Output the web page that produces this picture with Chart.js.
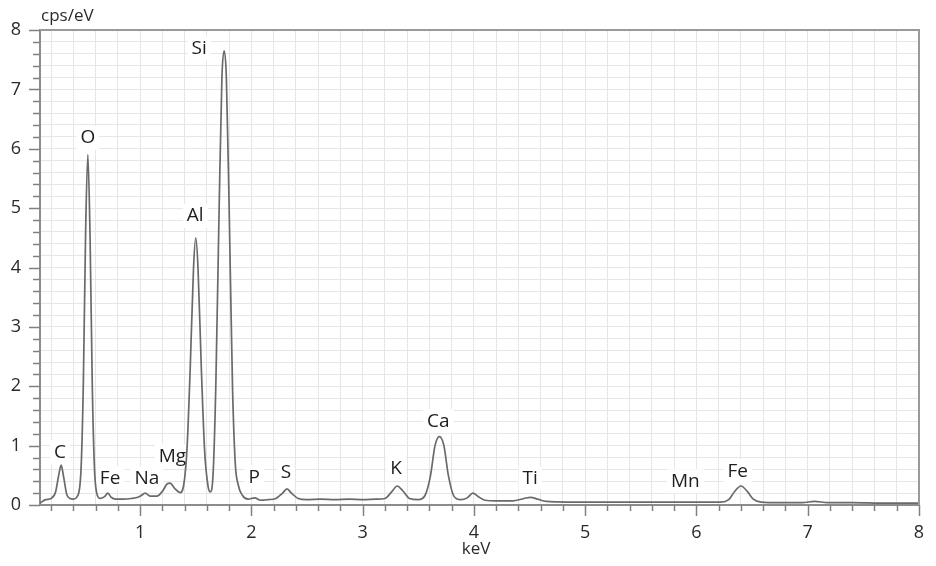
<!DOCTYPE html>
<html>
<head>
<meta charset="utf-8">
<title>EDS spectrum</title>
<script src="https://cdn.jsdelivr.net/npm/chart.js@4/dist/chart.umd.min.js"></script>
<style>
  html, body { margin: 0; padding: 0; background: #fff; }
  #wrap { width: 936px; height: 566px; }
</style>
</head>
<body>
<div id="wrap"><canvas id="spectrum" width="936" height="566"></canvas></div>
<script>
// spectrum (keV, cps/eV)
const energy = [
  0.10, 0.15, 0.20, 0.24, 0.27, 0.29, 0.31, 0.34, 0.37, 0.40,
  0.44, 0.47, 0.49, 0.51, 0.53, 0.55, 0.57, 0.59, 0.61, 0.64,
  0.68, 0.71, 0.74, 0.78, 0.85, 0.92, 0.98, 1.01, 1.045, 1.09,
  1.15, 1.20, 1.24, 1.27, 1.31, 1.36, 1.39, 1.42, 1.45, 1.48,
  1.50, 1.52, 1.55, 1.58, 1.61, 1.63, 1.655, 1.68, 1.71, 1.735,
  1.755, 1.775, 1.80, 1.83, 1.855, 1.88, 1.92, 1.97, 2.03, 2.08,
  2.15, 2.22, 2.28, 2.32, 2.36, 2.42, 2.50, 2.62, 2.75, 2.88,
  3.00, 3.12, 3.20, 3.26, 3.31, 3.36, 3.42, 3.50, 3.56, 3.61,
  3.65, 3.69, 3.73, 3.77, 3.82, 3.88, 3.94, 3.99, 4.04, 4.10,
  4.20, 4.35, 4.45, 4.51, 4.57, 4.65, 4.85, 5.10, 5.40, 5.70,
  5.90, 6.10, 6.22, 6.29, 6.34, 6.40, 6.46, 6.51, 6.58, 6.75,
  6.95, 7.06, 7.18, 7.40, 7.70, 8.00
];
const counts = [
  0.03, 0.09, 0.11, 0.22, 0.52, 0.67, 0.50, 0.18, 0.11, 0.10,
  0.16, 0.65, 2.10, 4.60, 5.90, 4.50, 2.00, 0.60, 0.20, 0.11,
  0.14, 0.20, 0.13, 0.10, 0.10, 0.11, 0.13, 0.16, 0.20, 0.15,
  0.15, 0.23, 0.35, 0.37, 0.28, 0.21, 0.32, 0.90, 2.30, 4.00,
  4.50, 4.00, 2.30, 0.90, 0.32, 0.22, 0.50, 2.00, 5.00, 7.20,
  7.65, 7.20, 5.00, 2.00, 0.70, 0.35, 0.16, 0.10, 0.12, 0.08,
  0.09, 0.11, 0.20, 0.27, 0.20, 0.11, 0.09, 0.10, 0.09, 0.10,
  0.09, 0.10, 0.11, 0.22, 0.32, 0.24, 0.11, 0.09, 0.16, 0.50,
  1.00, 1.15, 1.00, 0.50, 0.15, 0.09, 0.12, 0.20, 0.14, 0.08,
  0.07, 0.07, 0.11, 0.13, 0.10, 0.06, 0.05, 0.05, 0.05, 0.05,
  0.05, 0.05, 0.05, 0.09, 0.22, 0.32, 0.22, 0.10, 0.05, 0.04,
  0.04, 0.06, 0.04, 0.04, 0.03, 0.03
];

// element labels and where they sit (keV, cps/eV)
const peakNames = ['C', 'O', 'Fe', 'Na', 'Mg', 'Al', 'Si', 'P', 'S', 'K', 'Ca', 'Ti', 'Mn', 'Fe'];
const labelKeV = [0.28, 0.53, 0.73, 1.06, 1.29, 1.495, 1.53, 2.025, 2.31, 3.30, 3.68, 4.505, 5.90, 6.37];
const labelCps = [0.89, 6.18, 0.45, 0.45, 0.82, 4.87, 7.69, 0.47, 0.54, 0.62, 1.41, 0.44, 0.40, 0.56];

const xTickLabels = [1, 2, 3, 4, 5, 6, 7, 8];
const yTickLabels = [0, 1, 2, 3, 4, 5, 6, 7, 8];

const FONT = '"Open Sans", "DejaVu Sans", sans-serif';

function isWhole(v) {
  return Math.abs(v - Math.round(v)) < 1e-6;
}

// grid and ticks every 0.2
function fifthTicks(from, to) {
  const ticks = [];
  for (let i = Math.round(from * 5); i <= Math.round(to * 5); i++) {
    ticks.push({ value: i / 5 });
  }
  return ticks;
}

function labelBox(ctx, chart, i) {
  const x = chart.scales.x.getPixelForValue(labelKeV[i]);
  const y = chart.scales.y.getPixelForValue(labelCps[i]);
  const w = ctx.measureText(peakNames[i]).width;
  return { x: x, y: y, w: w };
}

const decorations = {
  id: 'decorations',
  beforeDatasetsDraw(chart) {
    const ctx = chart.ctx;
    ctx.save();
    ctx.font = '19px ' + FONT;
    ctx.fillStyle = '#ffffff';
    peakNames.forEach(function(name, i) {
      const b = labelBox(ctx, chart, i);
      ctx.fillRect(b.x - b.w / 2 - 4, b.y - 12, b.w + 8, 24);
    });
    ctx.restore();
  },
  afterDatasetsDraw(chart) {
    const ctx = chart.ctx;
    ctx.save();
    ctx.font = '19px ' + FONT;
    ctx.fillStyle = '#1e1e1e';
    ctx.textAlign = 'center';
    ctx.textBaseline = 'middle';
    peakNames.forEach(function(name, i) {
      const b = labelBox(ctx, chart, i);
      ctx.fillText(name, b.x, b.y);
    });
    ctx.restore();
  },
  afterDraw(chart) {
    const ctx = chart.ctx;
    const a = chart.chartArea;
    const x = chart.scales.x, y = chart.scales.y;
    ctx.save();
    // frame on top and right
    ctx.strokeStyle = '#9a9a9a';
    ctx.lineWidth = 2;
    ctx.beginPath();
    ctx.moveTo(a.left, a.top);
    ctx.lineTo(a.right, a.top);
    ctx.lineTo(a.right, a.bottom);
    ctx.stroke();
    // tick marks
    ctx.strokeStyle = '#808080';
    ctx.lineWidth = 1.5;
    x.ticks.forEach(function(t) {
      const px = Math.round(x.getPixelForValue(t.value)) + 0.5;
      ctx.beginPath();
      ctx.moveTo(px, a.bottom);
      ctx.lineTo(px, a.bottom + (isWhole(t.value) ? 11 : 6));
      ctx.stroke();
    });
    y.ticks.forEach(function(t) {
      const py = Math.round(y.getPixelForValue(t.value)) + 0.5;
      ctx.beginPath();
      ctx.moveTo(a.left, py);
      ctx.lineTo(a.left - (isWhole(t.value) ? 11 : 7), py);
      ctx.stroke();
    });
    // axis titles
    ctx.fillStyle = '#2a2a2a';
    ctx.font = '17px ' + FONT;
    ctx.textBaseline = 'middle';
    ctx.textAlign = 'left';
    ctx.fillText('cps/eV', 41, 16);
    ctx.textAlign = 'center';
    ctx.fillText('keV', 476, 549);
    ctx.restore();
  }
};

const ctx = document.getElementById('spectrum').getContext('2d');
new Chart(ctx, {
  type: 'line',
  data: {
    datasets: [{
      data: energy.map(function(e, i) { return { x: e, y: counts[i] }; }),
      borderColor: '#6a6a6a',
      borderWidth: 1.7,
      pointRadius: 0,
      fill: false,
      cubicInterpolationMode: 'monotone'
    }]
  },
  options: {
    responsive: false,
    animation: false,
    layout: { padding: { left: 0, top: 30, right: 17, bottom: 0 } },
    plugins: {
      legend: { display: false },
      tooltip: { enabled: false }
    },
    scales: {
      x: {
        type: 'linear',
        min: 0.1,
        max: 8,
        afterBuildTicks: function(scale) { scale.ticks = fifthTicks(0.2, 8); },
        afterFit: function(scale) {
          scale.height = 61;
          scale.paddingLeft = 0;
          scale.paddingRight = 0;
        },
        border: { color: '#8c8c8c', width: 2 },
        grid: { color: '#e6e6e6', lineWidth: 1, drawTicks: false },
        ticks: {
          autoSkip: false,
          maxRotation: 0,
          padding: 17,
          color: '#2a2a2a',
          font: { family: FONT, size: 18 },
          callback: function(v) {
            return isWhole(v) && xTickLabels.includes(Math.round(v)) ? String(Math.round(v)) : '';
          }
        }
      },
      y: {
        type: 'linear',
        min: 0,
        max: 8,
        afterBuildTicks: function(scale) { scale.ticks = fifthTicks(0, 8); },
        afterFit: function(scale) {
          scale.width = 40;
          scale.paddingTop = 0;
          scale.paddingBottom = 0;
        },
        border: { color: '#8c8c8c', width: 2 },
        grid: { color: '#e6e6e6', lineWidth: 1, drawTicks: false },
        ticks: {
          autoSkip: false,
          padding: 19,
          color: '#2a2a2a',
          font: { family: FONT, size: 18 },
          callback: function(v) {
            return isWhole(v) && yTickLabels.includes(Math.round(v)) ? String(Math.round(v)) : '';
          }
        }
      }
    }
  },
  plugins: [decorations]
});
</script>
</body>
</html>
